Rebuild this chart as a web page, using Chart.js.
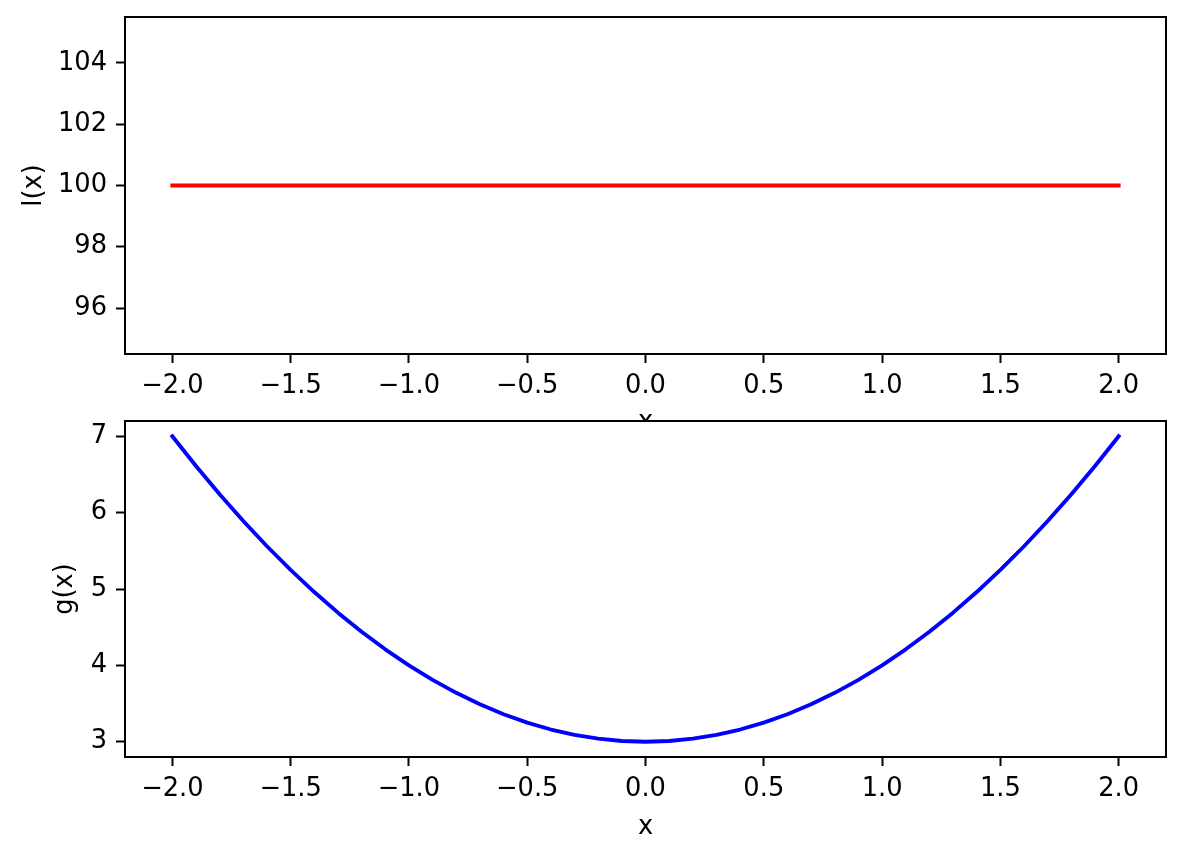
<!DOCTYPE html>
<html>
<head>
<meta charset="utf-8">
<script src="https://cdn.jsdelivr.net/npm/chart.js@4/dist/chart.umd.min.js"></script>
<style>
  html, body { margin: 0; padding: 0; background: #fff; }
  #wrap { position: relative; width: 1186px; height: 858px; overflow: hidden; background: #fff; }
  #top { position: absolute; left: 0; top: 0; width: 1186px; height: 440px; }
  #bot { position: absolute; left: 0; top: 400px; width: 1186px; height: 458px; }
</style>
</head>
<body>
<div id="wrap">
  <div id="top"><canvas id="c1" width="1186" height="440"></canvas></div>
  <div id="bot"><canvas id="c2" width="1186" height="458"></canvas></div>
</div>
<script>
// ---- data ----
const xValues = [-2.0, -1.9, -1.8, -1.7, -1.6, -1.5, -1.4, -1.3, -1.2, -1.1, -1.0,
                 -0.9, -0.8, -0.7, -0.6, -0.5, -0.4, -0.3, -0.2, -0.1, 0.0,
                  0.1, 0.2, 0.3, 0.4, 0.5, 0.6, 0.7, 0.8, 0.9, 1.0,
                  1.1, 1.2, 1.3, 1.4, 1.5, 1.6, 1.7, 1.8, 1.9, 2.0];
const lValues = [100, 100, 100, 100, 100, 100, 100, 100, 100, 100, 100,
                 100, 100, 100, 100, 100, 100, 100, 100, 100, 100,
                 100, 100, 100, 100, 100, 100, 100, 100, 100, 100,
                 100, 100, 100, 100, 100, 100, 100, 100, 100, 100];
const gValues = [7.00, 6.61, 6.24, 5.89, 5.56, 5.25, 4.96, 4.69, 4.44, 4.21, 4.00,
                 3.81, 3.64, 3.49, 3.36, 3.25, 3.16, 3.09, 3.04, 3.01, 3.00,
                 3.01, 3.04, 3.09, 3.16, 3.25, 3.36, 3.49, 3.64, 3.81, 4.00,
                 4.21, 4.44, 4.69, 4.96, 5.25, 5.56, 5.89, 6.24, 6.61, 7.00];
const xTicks = [-2.0, -1.5, -1.0, -0.5, 0.0, 0.5, 1.0, 1.5, 2.0];
const lTicks = [96, 98, 100, 102, 104];
const gTicks = [3, 4, 5, 6, 7];
const xLabel = 'x';
const lLabel = 'l(x)';
const gLabel = 'g(x)';

// ---- style ----
const FONT = { family: 'DejaVu Sans', size: 25.7 };
const TICKLEN = 9;

function fmtX(v) {
  const a = Math.abs(v).toFixed(1);
  return (v < -1e-9 ? '\u2212' : '') + a;
}

const framePlugin = {
  id: 'frame',
  beforeDraw(chart) {
    const a = chart.chartArea, ctx = chart.ctx;
    ctx.save();
    ctx.fillStyle = '#fff';
    ctx.fillRect(a.left, a.top, a.right - a.left, a.bottom - a.top);
    ctx.restore();
  },
  afterDatasetsDraw(chart) {
    const a = chart.chartArea, ctx = chart.ctx;
    ctx.save();
    ctx.strokeStyle = '#000';
    ctx.lineWidth = 2;
    ctx.lineJoin = 'miter';
    ctx.strokeRect(a.left, a.top, a.right - a.left, a.bottom - a.top);
    ctx.restore();
  }
};

function makeChart(canvasId, ys, color, yMin, yMax, yTicks, yTitle, yTitlePad, padTop, xAxisH, xTitlePad, fmtY) {
  const pts = xValues.map((x, i) => ({ x: x, y: ys[i] }));
  return new Chart(document.getElementById(canvasId), {
    type: 'line',
    data: { datasets: [{
      data: pts,
      borderColor: color,
      borderWidth: 3.85,
      pointRadius: 0,
      tension: 0,
      fill: false,
      borderCapStyle: 'square',
      borderJoinStyle: 'round'
    }]},
    options: {
      responsive: false,
      animation: false,
      devicePixelRatio: 1,
      events: [],
      layout: { padding: { left: 0, right: 20, top: padTop, bottom: 0 } },
      plugins: { legend: { display: false }, tooltip: { enabled: false } },
      scales: {
        x: {
          type: 'linear',
          min: -2.2, max: 2.2,
          afterBuildTicks(s) { s.ticks = xTicks.map(v => ({ value: v })); },
          afterFit(s) { s.height = xAxisH; s.paddingLeft = 0; s.paddingRight = 0; s.paddingTop = 0; s.paddingBottom = 0; },
          ticks: { autoSkip: false, maxRotation: 0, minRotation: 0, padding: 8, color: '#000', font: FONT,
                   callback: v => fmtX(v) },
          grid: { drawOnChartArea: false, drawTicks: true, tickLength: TICKLEN, tickWidth: 2, tickColor: '#000' },
          border: { display: false },
          title: { display: true, text: xLabel, color: '#000', font: FONT, padding: { top: 0, bottom: xTitlePad } }
        },
        y: {
          type: 'linear',
          min: yMin, max: yMax,
          afterBuildTicks(s) { s.ticks = yTicks.map(v => ({ value: v })); },
          afterFit(s) { s.width = 125; s.paddingLeft = 0; s.paddingRight = 0; s.paddingTop = 0; s.paddingBottom = 0; },
          ticks: { autoSkip: false, padding: 9, color: '#000', font: FONT, callback: fmtY },
          grid: { drawOnChartArea: false, drawTicks: true, tickLength: TICKLEN, tickWidth: 2, tickColor: '#000' },
          border: { display: false },
          title: { display: true, text: yTitle, color: '#000', font: FONT, padding: { top: yTitlePad, bottom: 0 } }
        }
      }
    },
    plugins: [framePlugin]
  });
}

makeChart('c1', lValues, '#ff0000', 94.5, 105.5, lTicks, lLabel, 18.5, 17, 86, 2, v => String(Math.round(v)));
makeChart('c2', gValues, '#0000ff', 2.8, 7.2, gTicks, gLabel, 49.5, 21, 101, 15.5, v => String(Math.round(v)));
</script>
</body>
</html>
